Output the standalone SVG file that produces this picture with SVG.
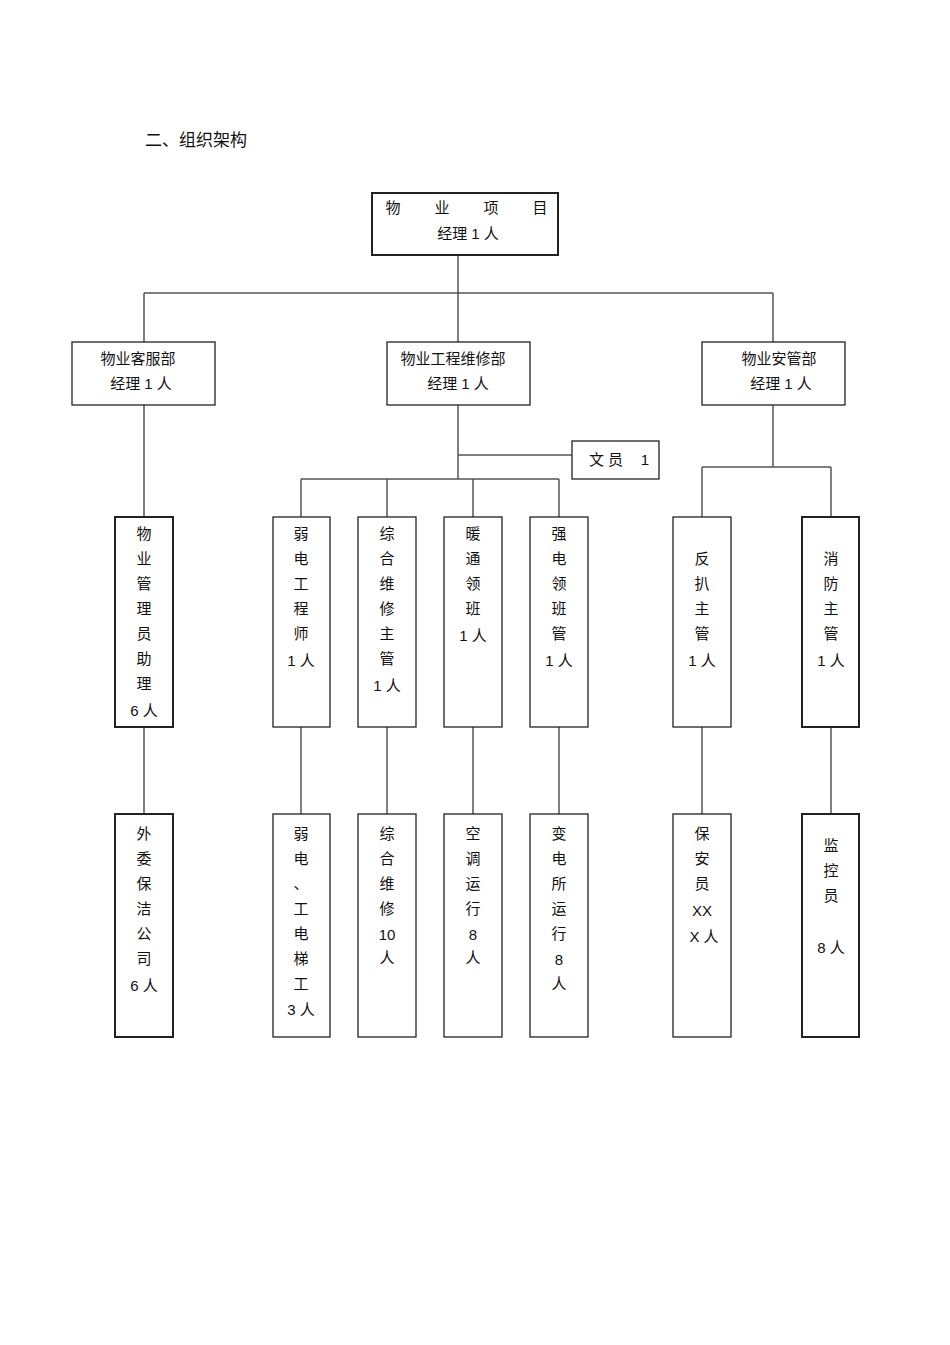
<svg xmlns="http://www.w3.org/2000/svg" width="950" height="1345" viewBox="0 0 950 1345">
<style>
rect{fill:#fff;stroke:#222;stroke-width:1.3}
.thick{stroke-width:2}
text{font-family:"Liberation Sans","Noto Sans CJK SC",sans-serif;font-size:15px;fill:#111;text-anchor:middle}
#connectors line{stroke:#555;stroke-width:1.5}
</style>
<rect width="950" height="1345" style="fill:#fff;stroke:none"/>
<text x="145" y="146" style="text-anchor:start;font-size:17px">二、组织架构</text>
<g id="connectors">
<line x1="458" y1="255" x2="458" y2="342"/>
<line x1="144" y1="293" x2="773" y2="293"/>
<line x1="144" y1="293" x2="144" y2="342"/>
<line x1="773" y1="293" x2="773" y2="342"/>
<line x1="144" y1="405" x2="144" y2="517"/>
<line x1="458" y1="405" x2="458" y2="479"/>
<line x1="458" y1="455" x2="572" y2="455"/>
<line x1="301" y1="479" x2="559" y2="479"/>
<line x1="301" y1="479" x2="301" y2="517"/>
<line x1="387" y1="479" x2="387" y2="517"/>
<line x1="473" y1="479" x2="473" y2="517"/>
<line x1="559" y1="479" x2="559" y2="517"/>
<line x1="773" y1="405" x2="773" y2="467"/>
<line x1="702" y1="467" x2="831" y2="467"/>
<line x1="702" y1="467" x2="702" y2="517"/>
<line x1="831" y1="467" x2="831" y2="517"/>
<line x1="144" y1="727" x2="144" y2="814"/>
<line x1="301" y1="727" x2="301" y2="814"/>
<line x1="387" y1="727" x2="387" y2="814"/>
<line x1="473" y1="727" x2="473" y2="814"/>
<line x1="559" y1="727" x2="559" y2="814"/>
<line x1="702" y1="727" x2="702" y2="814"/>
<line x1="831" y1="727" x2="831" y2="814"/>
</g>
<g id="gm"><rect x="372" y="193" width="186" height="62" class="thick"/>
<text x="393" y="213">物</text><text x="442" y="213">业</text><text x="491" y="213">项</text><text x="540" y="213">目</text>
<text x="468" y="239">经理 1 人</text></g>
<g id="kf"><rect x="72" y="342" width="143" height="63"/><text x="138" y="364">物业客服部</text><text x="141" y="389">经理 1 人</text></g>
<g id="gc"><rect x="387" y="342" width="143" height="63"/><text x="453" y="364">物业工程维修部</text><text x="458" y="389">经理 1 人</text></g>
<g id="ag"><rect x="702" y="342" width="143" height="63"/><text x="779" y="364">物业安管部</text><text x="781" y="389">经理 1 人</text></g>
<g id="wy"><rect x="572" y="441" width="87" height="38"/><text x="606" y="465">文 员</text><text x="645" y="465">1</text></g>
<g id="l3a"><rect x="115" y="517" width="58" height="210" class="thick"/><text x="144"><tspan x="144" y="539">物</tspan><tspan x="144" y="564">业</tspan><tspan x="144" y="589">管</tspan><tspan x="144" y="614">理</tspan><tspan x="144" y="639">员</tspan><tspan x="144" y="664">助</tspan><tspan x="144" y="689">理</tspan><tspan x="144" y="716">6 人</tspan></text></g>
<g id="l3b"><rect x="273" y="517" width="57" height="210"/><text><tspan x="301" y="539">弱</tspan><tspan x="301" y="564">电</tspan><tspan x="301" y="589">工</tspan><tspan x="301" y="614">程</tspan><tspan x="301" y="639">师</tspan><tspan x="301" y="666">1 人</tspan></text></g>
<g id="l3c"><rect x="358" y="517" width="58" height="210"/><text><tspan x="387" y="539">综</tspan><tspan x="387" y="564">合</tspan><tspan x="387" y="589">维</tspan><tspan x="387" y="614">修</tspan><tspan x="387" y="639">主</tspan><tspan x="387" y="664">管</tspan><tspan x="387" y="691">1 人</tspan></text></g>
<g id="l3d"><rect x="444" y="517" width="58" height="210"/><text><tspan x="473" y="539">暖</tspan><tspan x="473" y="564">通</tspan><tspan x="473" y="589">领</tspan><tspan x="473" y="614">班</tspan><tspan x="473" y="641">1 人</tspan></text></g>
<g id="l3e"><rect x="530" y="517" width="58" height="210"/><text><tspan x="559" y="539">强</tspan><tspan x="559" y="564">电</tspan><tspan x="559" y="589">领</tspan><tspan x="559" y="614">班</tspan><tspan x="559" y="639">管</tspan><tspan x="559" y="666">1 人</tspan></text></g>
<g id="l3f"><rect x="673" y="517" width="58" height="210"/><text><tspan x="702" y="564">反</tspan><tspan x="702" y="589">扒</tspan><tspan x="702" y="614">主</tspan><tspan x="702" y="639">管</tspan><tspan x="702" y="666">1 人</tspan></text></g>
<g id="l3g"><rect x="802" y="517" width="57" height="210" class="thick"/><text><tspan x="831" y="564">消</tspan><tspan x="831" y="589">防</tspan><tspan x="831" y="614">主</tspan><tspan x="831" y="639">管</tspan><tspan x="831" y="666">1 人</tspan></text></g>
<g id="l4a"><rect x="115" y="814" width="58" height="223" class="thick"/><text><tspan x="144" y="839">外</tspan><tspan x="144" y="864">委</tspan><tspan x="144" y="889">保</tspan><tspan x="144" y="914">洁</tspan><tspan x="144" y="939">公</tspan><tspan x="144" y="964">司</tspan><tspan x="144" y="991">6 人</tspan></text></g>
<g id="l4b"><rect x="273" y="814" width="57" height="223"/><text><tspan x="301" y="839">弱</tspan><tspan x="301" y="864">电</tspan><tspan x="301" y="889">、</tspan><tspan x="301" y="914">工</tspan><tspan x="301" y="939">电</tspan><tspan x="301" y="964">梯</tspan><tspan x="301" y="989">工</tspan><tspan x="301" y="1015">3 人</tspan></text></g>
<g id="l4c"><rect x="358" y="814" width="58" height="223"/><text><tspan x="387" y="839">综</tspan><tspan x="387" y="864">合</tspan><tspan x="387" y="889">维</tspan><tspan x="387" y="914">修</tspan><tspan x="387" y="940">10</tspan><tspan x="387" y="963">人</tspan></text></g>
<g id="l4d"><rect x="444" y="814" width="58" height="223"/><text><tspan x="473" y="839">空</tspan><tspan x="473" y="864">调</tspan><tspan x="473" y="889">运</tspan><tspan x="473" y="914">行</tspan><tspan x="473" y="940">8</tspan><tspan x="473" y="963">人</tspan></text></g>
<g id="l4e"><rect x="530" y="814" width="58" height="223"/><text><tspan x="559" y="839">变</tspan><tspan x="559" y="864">电</tspan><tspan x="559" y="889">所</tspan><tspan x="559" y="914">运</tspan><tspan x="559" y="939">行</tspan><tspan x="559" y="965">8</tspan><tspan x="559" y="989">人</tspan></text></g>
<g id="l4f"><rect x="673" y="814" width="58" height="223"/><text><tspan x="702" y="839">保</tspan><tspan x="702" y="864">安</tspan><tspan x="702" y="889">员</tspan><tspan x="702" y="916">XX</tspan><tspan x="704" y="942">X 人</tspan></text></g>
<g id="l4g"><rect x="802" y="814" width="57" height="223" class="thick"/><text><tspan x="831" y="851">监</tspan><tspan x="831" y="876">控</tspan><tspan x="831" y="901">员</tspan><tspan x="831" y="953">8 人</tspan></text></g>
</svg>
